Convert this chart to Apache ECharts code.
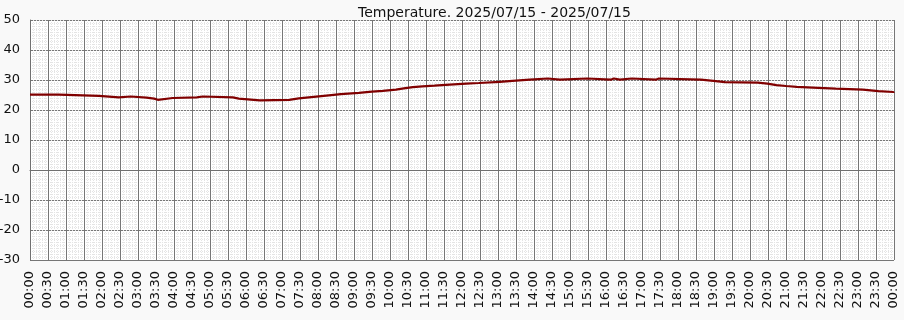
<!DOCTYPE html>
<html>
<head>
<meta charset="utf-8">
<script src="https://cdn.jsdelivr.net/npm/echarts@6/dist/echarts.min.js"></script>
<style>
html,body{margin:0;padding:0;background:#f9f9f9;}
#c{width:904px;height:320px;}
</style>
</head>
<body>
<div id="c"></div>
<script>
// Segment start times (minutes from 00:00) and temperature values (°C)
const times = [0,48,115,148,168,194,207,213,238,278,288,338,348,383,432,448,473,498,518,548,570,588,610,623,638,654,674,693,727,748,783,804,833,863,883,929,968,973,983,1003,1043,1048,1118,1139,1158,1213,1229,1244,1260,1278,1314,1343,1388,1414,1439,1440];
const temps = [25.1,24.7,24.2,24.5,24.1,23.8,23.4,24.0,24.2,24.5,24.2,23.8,23.2,23.4,23.9,24.4,24.9,25.3,25.7,26.1,26.4,26.8,27.2,27.6,27.9,28.1,28.4,28.8,29.0,29.4,29.7,30.1,30.5,30.1,30.5,30.1,30.5,30.1,30.5,30.1,30.5,30.1,29.7,29.3,29.1,28.8,28.3,28.0,27.7,27.4,27.1,26.8,26.3,26.0,25.7,25.7];
const yTicks = [-30,-20,-10,0,10,20,30,40,50];
const titleText = 'Temperature. 2025/07/15 - 2025/07/15';

const data = times.map((t,i)=>[t,temps[i]]);
function fmt(v){
  const m = Math.round(v) % 1440;
  const h = Math.floor(m/60), mm = m%60;
  return String(h).padStart(2,'0')+':'+String(mm).padStart(2,'0');
}
const chart = echarts.init(document.getElementById('c'), null, {renderer:'canvas'});
chart.setOption({
  backgroundColor:'#f9f9f9',
  animation:false,
  title:{text:titleText,left:353,top:1,textStyle:{fontFamily:'DejaVu Sans',fontSize:14,fontWeight:'normal',color:'#111'}},
  grid:{left:30,right:10,top:20,bottom:60,show:true,backgroundColor:'#ffffff',borderWidth:0,containLabel:false,outerBoundsMode:'none'},
  xAxis:{
    type:'value',min:0,max:1440,interval:30,
    axisLine:{show:true,lineStyle:{color:'#707070',width:1}},
    axisTick:{show:false},
    axisLabel:{rotate:90,margin:11,formatter:fmt,fontFamily:'DejaVu Sans',fontSize:13,color:'#111',showMinLabel:true,showMaxLabel:true,hideOverlap:false},
    splitLine:{show:true,lineStyle:{color:'#767676',width:1}},
    minorTick:{show:false,splitNumber:6},
    minorSplitLine:{show:true,lineStyle:{color:'#e4e4e4',width:1,type:[1,1]}}
  },
  yAxis:{
    type:'value',min:yTicks[0],max:yTicks[yTicks.length-1],interval:10,
    axisLine:{show:true,lineStyle:{color:'#707070',width:1}},
    axisTick:{show:false},
    axisLabel:{margin:10,fontFamily:'DejaVu Sans',fontSize:13,color:'#111'},
    splitLine:{show:true,lineStyle:{color:'#767676',width:1}},
    minorTick:{show:false,splitNumber:10},
    minorSplitLine:{show:true,lineStyle:{color:'#e4e4e4',width:1,type:[1,1]}}
  },
  series:[{
    type:'line',step:'end',data:data,showSymbol:false,
    lineStyle:{color:'#800000',width:2.2},
    z:5
  }]
});
</script>
</body>
</html>
